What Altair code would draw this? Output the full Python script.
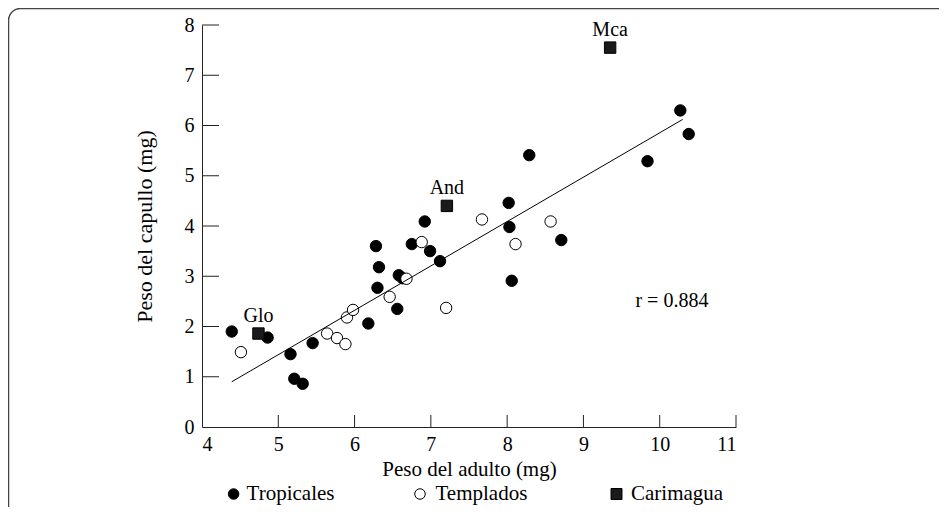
import altair as alt
import pandas as pd

# ---- data ----
trop_x = [4.39, 4.86, 5.16, 5.21, 5.32, 5.45, 6.18, 6.28, 6.32, 6.30, 6.56, 6.58, 6.63,
          6.75, 6.92, 6.99, 7.12, 8.02, 8.03, 8.06, 8.29, 8.71, 9.84, 10.27, 10.38]
trop_y = [1.90, 1.78, 1.45, 0.96, 0.86, 1.67, 2.06, 3.60, 3.18, 2.77, 2.35, 3.02, 2.96,
          3.64, 4.09, 3.50, 3.30, 4.46, 3.98, 2.91, 5.41, 3.72, 5.29, 6.30, 5.83]
temp_x = [4.51, 5.64, 5.77, 5.88, 5.90, 5.98, 6.46, 6.68, 6.88, 7.20, 7.67, 8.11, 8.57]
temp_y = [1.49, 1.86, 1.77, 1.65, 2.18, 2.33, 2.59, 2.95, 3.68, 2.37, 4.13, 3.64, 4.09]
cari_x = [4.74, 7.21, 9.35]
cari_y = [1.86, 4.40, 7.55]
cari_lab = ["Glo", "And", "Mca"]
groups = ["Tropicales", "Templados", "Carimagua"]
fit_x = [4.39, 10.30]
fit_y = [0.90, 6.12]
r_label = ["r = 0.884"]
r_x = [10.16]
r_y = [2.51]
x_ticks = [4, 5, 6, 7, 8, 9, 10, 11]
y_ticks = [0, 1, 2, 3, 4, 5, 6, 7, 8]

FONT = "Liberation Serif"
FS = 20
W, H = 534, 402
PAD = {"left": 194, "top": 17, "right": 203, "bottom": 80}

pts = pd.DataFrame({
    "x": trop_x + temp_x + cari_x,
    "y": trop_y + temp_y + cari_y,
    "grupo": [groups[0]] * len(trop_x) + [groups[1]] * len(temp_x) + [groups[2]] * len(cari_x),
})
lab = pd.DataFrame({"x": cari_x, "y": cari_y, "t": cari_lab})
fit = pd.DataFrame({"x": fit_x, "y": fit_y})
rdf = pd.DataFrame({"x": r_x, "y": r_y, "t": r_label})
xt = pd.DataFrame({"x": x_ticks[1:]})
yt = pd.DataFrame({"y": y_ticks[1:]})

xs = alt.Scale(domain=[x_ticks[0], x_ticks[-1]], nice=False, zero=False)
ys = alt.Scale(domain=[y_ticks[0], y_ticks[-1]], nice=False, zero=True)

X = alt.X("x:Q", scale=xs, axis=alt.Axis(values=x_ticks, ticks=False, grid=False,
                                        title="Peso del adulto (mg)", labelPadding=7,
                                        titlePadding=4, titleFontSize=21, domainColor="#222"))
Y = alt.Y("y:Q", scale=ys, axis=alt.Axis(values=y_ticks, ticks=False, grid=False,
                                        title="Peso del capullo (mg)", labelPadding=8,
                                        titlePadding=28, titleFontSize=22, domainColor="#222"))

points = alt.Chart(pts).mark_point(filled=True, stroke="black", strokeWidth=1, opacity=1).encode(
    x=X, y=Y,
    shape=alt.Shape("grupo:N", scale=alt.Scale(domain=groups, range=["circle", "circle", "square"]),
                    legend=None),
    fill=alt.Fill("grupo:N", scale=alt.Scale(domain=groups, range=["#000000", "#ffffff", "#1a1a1a"]),
                  legend=None),
    size=alt.Size("grupo:N", scale=alt.Scale(domain=groups, range=[130, 130, 180]), legend=None),
)

line = alt.Chart(fit).mark_line(color="black", strokeWidth=1).encode(x=X, y=Y)

labels = alt.Chart(lab).mark_text(font=FONT, fontSize=FS, dy=-18, color="black").encode(
    x=X, y=Y, text="t:N")

rtext = alt.Chart(rdf).mark_text(font=FONT, fontSize=FS, color="black").encode(
    x=X, y=Y, text="t:N")

xtick = alt.Chart(xt).mark_rule(color="#222", strokeWidth=1).encode(
    x=X, y=alt.value(H), y2=alt.value(H - 12))

ytick = alt.Chart(yt).mark_rule(color="#222", strokeWidth=1).encode(
    y=Y, x=alt.value(0), x2=alt.value(17))

# ---- manual legend (below the axis title) ----
LEG_Y = 469
leg_sym_x = [31.6, 218, 414.5]
leg_txt_x = [44.6, 233.5, 429]
leg_shape = ["circle", "circle", "square"]
leg_fill = ["#000000", "#ffffff", "#1a1a1a"]
leg_size = [110, 110, 120]
legend_layers = []
for i, g in enumerate(groups):
    d = pd.DataFrame({"grupo": [g]})
    legend_layers.append(
        alt.Chart(d).mark_point(shape=leg_shape[i], filled=True, fill=leg_fill[i], stroke="black",
                                strokeWidth=1, size=leg_size[i], opacity=1).encode(
            x=alt.value(leg_sym_x[i]), y=alt.value(LEG_Y)))
    legend_layers.append(
        alt.Chart(d).mark_text(font=FONT, fontSize=21, align="left", baseline="middle",
                               color="black").encode(
            x=alt.value(leg_txt_x[i]), y=alt.value(LEG_Y), text="grupo:N"))

frame = alt.Chart(pd.DataFrame({"a": [0]})).mark_rect(
    fillOpacity=0, stroke="#444", strokeWidth=1.5, cornerRadius=12).encode(
    x=alt.value(-193.5), y=alt.value(-16.5), x2=alt.value(W + 260), y2=alt.value(H + 120))

chart = alt.layer(points, line, labels, rtext, xtick, ytick, *legend_layers, frame).properties(
    width=W, height=H,
    autosize=alt.AutoSizeParams(type="none"),
    padding=PAD,
).configure_view(stroke=None).configure_axis(
    labelFont=FONT, titleFont=FONT, labelFontSize=FS,
    labelColor="black", titleColor="black", titleFontWeight="normal", domainWidth=1,
)

chart.save("out.html", embed_options={"renderer": "svg", "actions": False})
